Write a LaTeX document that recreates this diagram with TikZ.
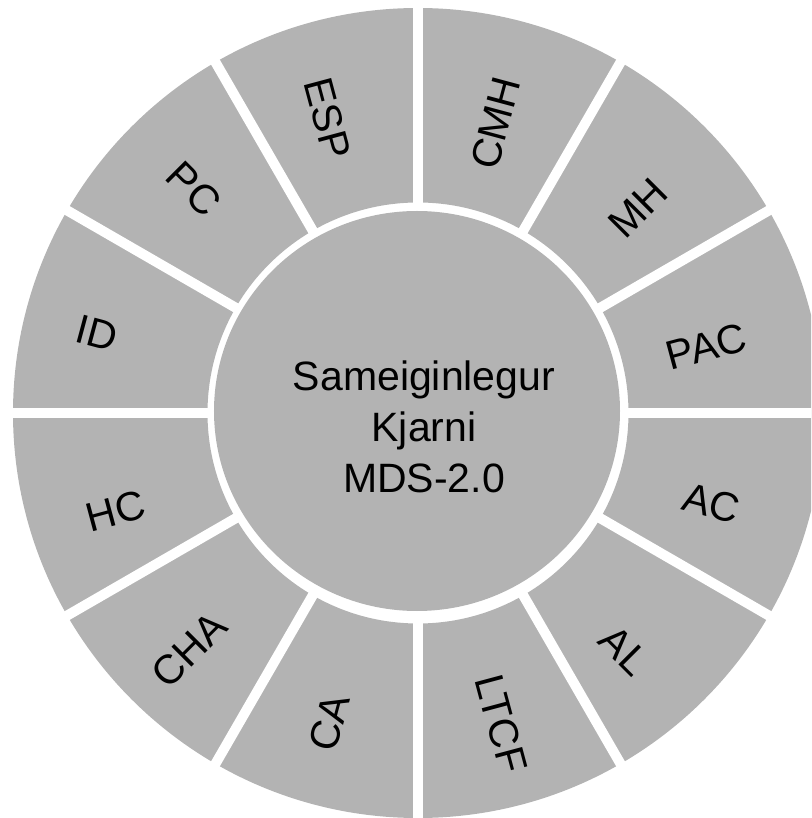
\documentclass[tikz,border=0pt]{standalone}
\usepackage{fontspec}
\setmainfont{Liberation Sans}
\definecolor{cb3b3b3}{RGB}{179,179,179}

\begin{document}
\begin{tikzpicture}[x=1pt,y=1pt,inner sep=0pt,outer sep=0pt,
  seglabel/.style={font=\fontsize{41}{49}\selectfont},
  gapline/.style={white,line width=10pt}]
\useasboundingbox (-418,-405) rectangle (393,413);
\clip (-418,-405) rectangle (393,413);
% outer ring, cut into twelve pieces
\fill[cb3b3b3,even odd rule] (0,0) circle (405) (0,0) circle (210.5);
\foreach \a in {0,30,...,330}
  \draw[gapline] (\a:200) -- (\a:420);
% core
\fill[cb3b3b3] (-1,2) ellipse (203 and 200);
\node[align=center,font=\fontsize{41}{51}\selectfont] (core) at (6,-14)
  {Sameiginlegur\\Kjarni\\MDS-2.0};
% labels of the ring
\foreach \n/\a/\r/\t in {CMH/75/300/75, MH/43/301/45, PAC/13/296/15,
    AC/-17/307/-15, AL/-49/315/-45, LTCF/-75/322/-75, CA/-106/322/75,
    CHA/-134/329/45, HC/-162/318/15, ID/166/331/-15, PC/135/317/-45,
    ESP/107/308/-75}
  \node[seglabel,rotate=\t] (lbl\n) at (\a:\r) {\n};
\end{tikzpicture}
\end{document}
